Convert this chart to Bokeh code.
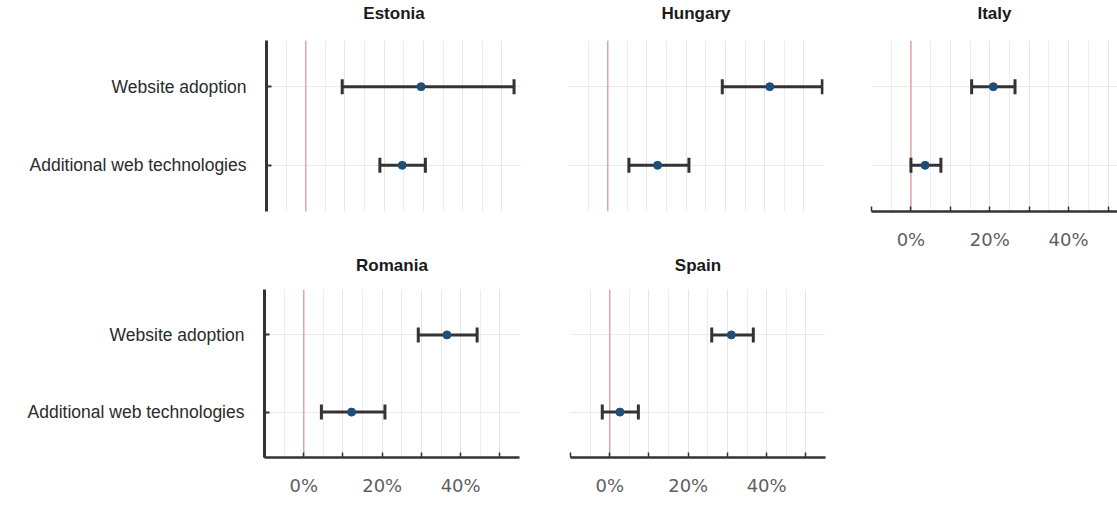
from bokeh.plotting import figure
from bokeh.models import (ColumnDataSource, FactorRange, Range1d, Whisker, TeeHead, Span,
                          FixedTicker, LinearAxis)
from bokeh.layouts import row, column
from bokeh.embed import file_html
from bokeh.resources import INLINE

# ---------------- data ----------------
countries = ["Estonia", "Hungary", "Italy", "Romania", "Spain"]
categories = ["Additional web technologies", "Website adoption"]  # bottom -> top

website_est = [29.4, 41.3, 20.9, 36.5, 31.0]
website_lo = [9.3, 29.2, 15.4, 29.2, 26.0]
website_hi = [53.1, 54.7, 26.4, 44.2, 36.6]

addweb_est = [24.6, 12.7, 3.6, 12.2, 2.6]
addweb_lo = [18.9, 5.4, 0.0, 4.5, -1.9]
addweb_hi = [30.5, 20.7, 7.6, 20.7, 7.3]

x_tick_values = [0, 20, 40]
x_tick_labels = ["0%", "20%", "40%"]
x_minor_tick_values = [-10, 10, 30, 50]
grid_major = [-10, 0, 10, 20, 30, 40, 50]
grid_minor = [-5, 5, 15, 25, 35, 45, 55]

AXIS_COLOR = "#333333"
BAR_COLOR = "#333333"
POINT_COLOR = "#1f4e79"
ZERO_COLOR = "#e2a3a3"


def make_panel(i, width, height, left, right, top, bottom, x_end,
               show_y, show_x, title_standoff):
    p = figure(width=width, height=height,
               x_range=Range1d(-10, x_end),
               y_range=FactorRange(factors=categories, range_padding=0.0875,
                                   range_padding_units="absolute"),
               x_axis_location="below" if show_x else None,
               y_axis_location="left" if show_y else None,
               output_backend="svg", toolbar_location=None,
               min_border_left=left, min_border_right=right,
               min_border_top=top, min_border_bottom=bottom)
    p.outline_line_color = None
    p.background_fill_color = "white"
    p.border_fill_color = "white"

    # panel title (drawn as the label of a bare axis above the frame)
    tax = LinearAxis(ticker=FixedTicker(ticks=[]), axis_label=countries[i],
                     axis_line_color=None, major_tick_line_color=None,
                     minor_tick_line_color=None, major_tick_out=0, major_tick_in=0,
                     minor_tick_out=0, minor_tick_in=0, major_label_standoff=0,
                     axis_label_standoff=title_standoff,
                     axis_label_text_font="Liberation Sans",
                     axis_label_text_font_style="bold",
                     axis_label_text_font_size="17px",
                     axis_label_text_color="#1a1a1a")
    p.add_layout(tax, "above")

    # grids
    p.xgrid.ticker = FixedTicker(ticks=grid_major, minor_ticks=grid_minor)
    p.xgrid.grid_line_color = "#e6e6e6"
    p.xgrid.grid_line_width = 1
    p.xgrid.minor_grid_line_color = "#ededed"
    p.xgrid.minor_grid_line_width = 1
    p.ygrid.grid_line_color = "#eaeaea"
    p.ygrid.grid_line_width = 1

    zero = Span(location=0, dimension="height", line_color=ZERO_COLOR,
                line_width=1.5, level="underlay")
    p.add_layout(zero)

    src = ColumnDataSource(dict(
        cat=[categories[1], categories[0]],
        est=[website_est[i], addweb_est[i]],
        lo=[website_lo[i], addweb_lo[i]],
        hi=[website_hi[i], addweb_hi[i]],
    ))
    w = Whisker(source=src, base="cat", lower="lo", upper="hi", dimension="width",
                line_color=BAR_COLOR, line_width=3, level="underlay",
                lower_head=TeeHead(size=15, line_color=BAR_COLOR, line_width=3),
                upper_head=TeeHead(size=15, line_color=BAR_COLOR, line_width=3))
    p.add_layout(w)
    p.scatter(x="est", y="cat", source=src, size=8, color=POINT_COLOR)

    if show_y:
        ax = p.yaxis[0]
        ax.axis_line_width = 3
        ax.axis_line_color = AXIS_COLOR
        ax.major_tick_in = 5
        ax.major_tick_out = 0
        ax.major_tick_line_width = 2
        ax.major_tick_line_color = AXIS_COLOR
        ax.major_label_standoff = 20
        ax.major_label_text_font = "Liberation Sans"
        ax.major_label_text_font_size = "17.5px"
        ax.major_label_text_color = "#2b2b2b"
    if show_x:
        ax = [a for a in p.below if isinstance(a, LinearAxis)][0]
        ax.ticker = FixedTicker(ticks=x_tick_values, minor_ticks=x_minor_tick_values)
        ax.major_label_overrides = {v: lab for v, lab in zip(x_tick_values, x_tick_labels)}
        ax.axis_line_width = 2.5
        ax.axis_line_color = AXIS_COLOR
        ax.major_tick_in = 5
        ax.major_tick_out = 0
        ax.minor_tick_in = 5
        ax.minor_tick_out = 0
        ax.major_tick_line_width = 1.5
        ax.minor_tick_line_width = 1.5
        ax.major_tick_line_color = AXIS_COLOR
        ax.minor_tick_line_color = AXIS_COLOR
        ax.major_label_standoff = 17
        ax.major_label_text_font = "DejaVu Sans"
        ax.major_label_text_font_size = "18px"
        ax.major_label_text_color = "#5f5f5f"
    return p


p_est = make_panel(0, 545, 252, 266, 24, 40, 38, 55, True, False, 18)
p_hun = make_panel(1, 303, 252, 23, 25, 40, 38, 55, False, False, 18)
p_ita = make_panel(2, 269, 252, 23, 0, 40, 38, 52.4, False, True, 18)
p_rom = make_panel(3, 548, 246, 264, 29, 34, 38, 55, True, True, 15)
p_spa = make_panel(4, 287, 246, 22, 10, 34, 38, 55, False, True, 15)

layout = column(row(p_est, p_hun, p_ita), row(p_rom, p_spa))

open("out.html", "w").write(file_html(layout, INLINE))
